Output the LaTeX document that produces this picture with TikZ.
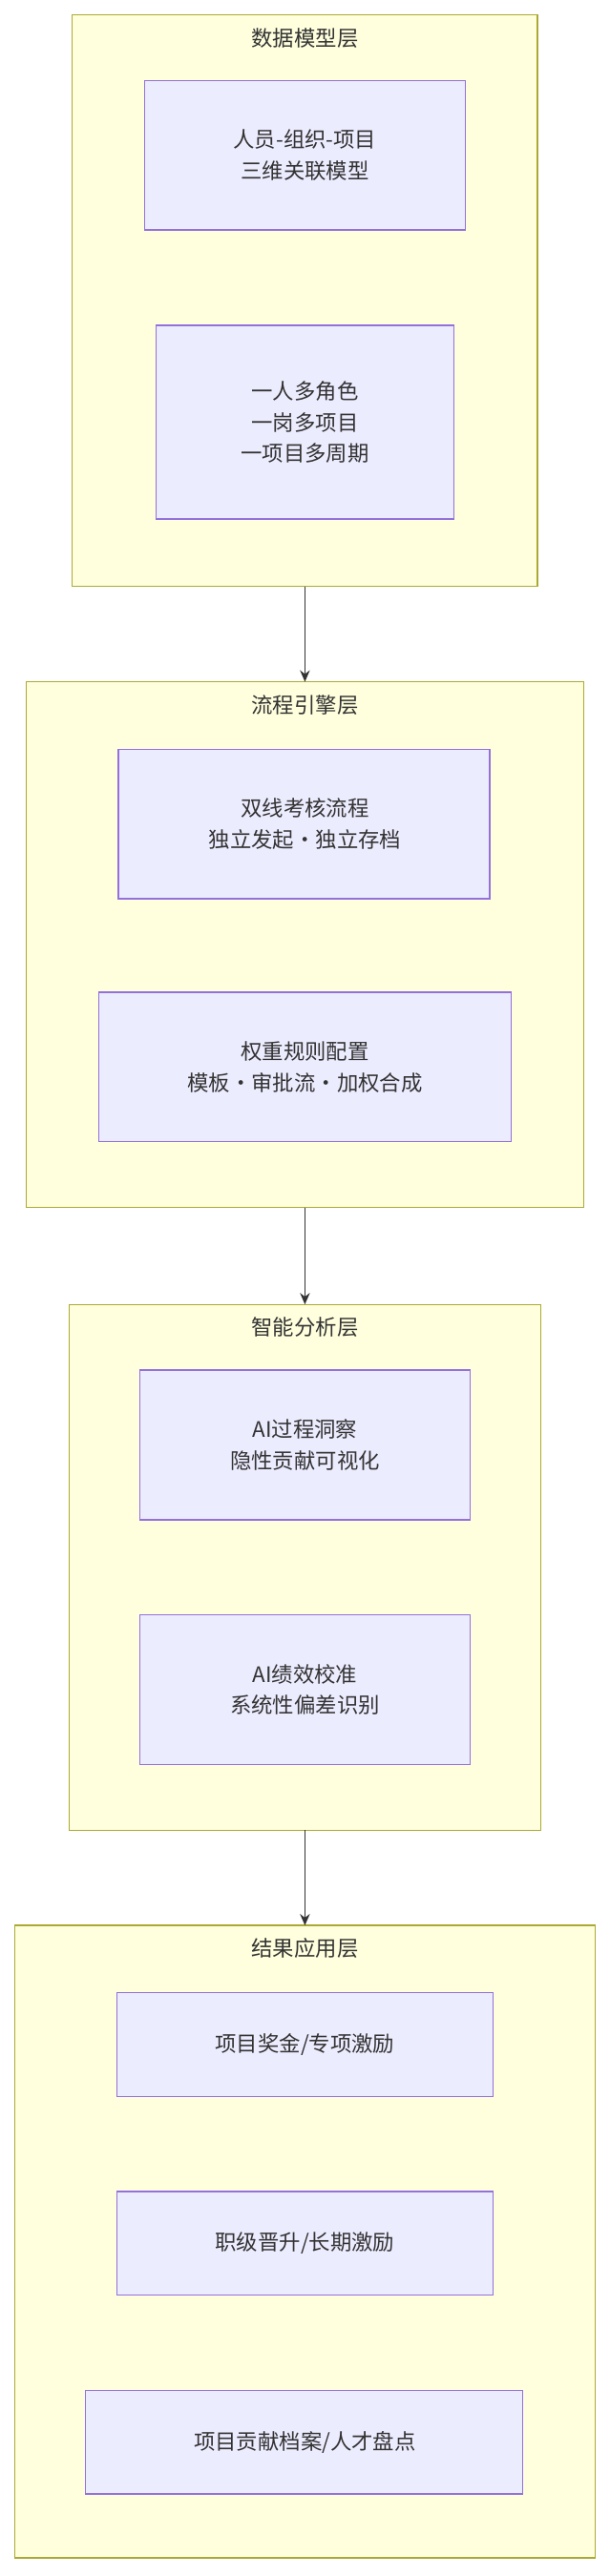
\documentclass[tikz,border=0pt]{standalone}
\usepackage{fontspec}
\newfontfamily\cjk{Noto Sans CJK SC}
\usetikzlibrary{arrows.meta}
\definecolor{lfill}{HTML}{FFFFDE}
\definecolor{lborder}{HTML}{AAAA33}
\definecolor{nfill}{HTML}{ECECFF}
\definecolor{nborder}{HTML}{9370DB}
\definecolor{ink}{HTML}{333333}
\tikzset{
  layer/.style={draw=lborder,fill=lfill,line width=0.8pt},
  box/.style={draw=nborder,fill=nfill,line width=0.8pt},
  txt/.style={font=\cjk\fontsize{13}{19}\selectfont,text=ink,align=center},
  arr/.style={draw=ink,line width=0.9pt,-{Stealth[length=7pt,width=6pt]}}
}
\begin{document}
\begin{tikzpicture}[x=1pt,y=-1pt]
\useasboundingbox (0,0) rectangle (371,1568);
% layers
\draw[layer] (44,9) rectangle (327,357); \coordinate (L1b) at (185.5,357);
\draw[layer] (16,415) rectangle (355,735); \coordinate (L2t) at (185.5,415); \coordinate (L2b) at (185.5,735);
\draw[layer] (42,794) rectangle (329,1114); \coordinate (L3t) at (185.5,794); \coordinate (L3b) at (185.5,1114);
\draw[layer] (9,1172) rectangle (362,1557); \coordinate (L4t) at (185.5,1172);
\node[txt] (t1) at (185.5,23) {数据模型层};
\node[txt] (t2) at (185.5,429) {流程引擎层};
\node[txt] (t3) at (185.5,808) {智能分析层};
\node[txt] (t4) at (185.5,1186) {结果应用层};
% boxes
\draw[box] (88,49) rectangle (283,140); \node[txt] (a1) at (185.5,94.5) {人员-组织-项目\\三维关联模型};
\draw[box] (95,198) rectangle (276,316); \node[txt] (a2) at (185.5,257) {一人多角色\\一岗多项目\\一项目多周期};
\draw[box] (72,456) rectangle (298,547); \node[txt] (b1) at (185.5,501.5) {双线考核流程\\独立发起·独立存档};
\draw[box] (60,604) rectangle (311,695); \node[txt] (b2) at (185.5,649.5) {权重规则配置\\模板·审批流·加权合成};
\draw[box] (85,834) rectangle (286,925); \node[txt] (c1) at (185.5,879.5) {AI过程洞察\\隐性贡献可视化};
\draw[box] (85,983) rectangle (286,1074); \node[txt] (c2) at (185.5,1028.5) {AI绩效校准\\系统性偏差识别};
\draw[box] (71,1213) rectangle (300,1276); \node[txt] (d1) at (185.5,1244.5) {项目奖金/专项激励};
\draw[box] (71,1334) rectangle (300,1397); \node[txt] (d2) at (185.5,1365.5) {职级晋升/长期激励};
\draw[box] (52,1455) rectangle (318,1518); \node[txt] (d3) at (185.5,1486.5) {项目贡献档案/人才盘点};
% arrows
\draw[arr] (L1b) -- (L2t);
\draw[arr] (L2b) -- (L3t);
\draw[arr] (L3b) -- (L4t);
\end{tikzpicture}
\end{document}
